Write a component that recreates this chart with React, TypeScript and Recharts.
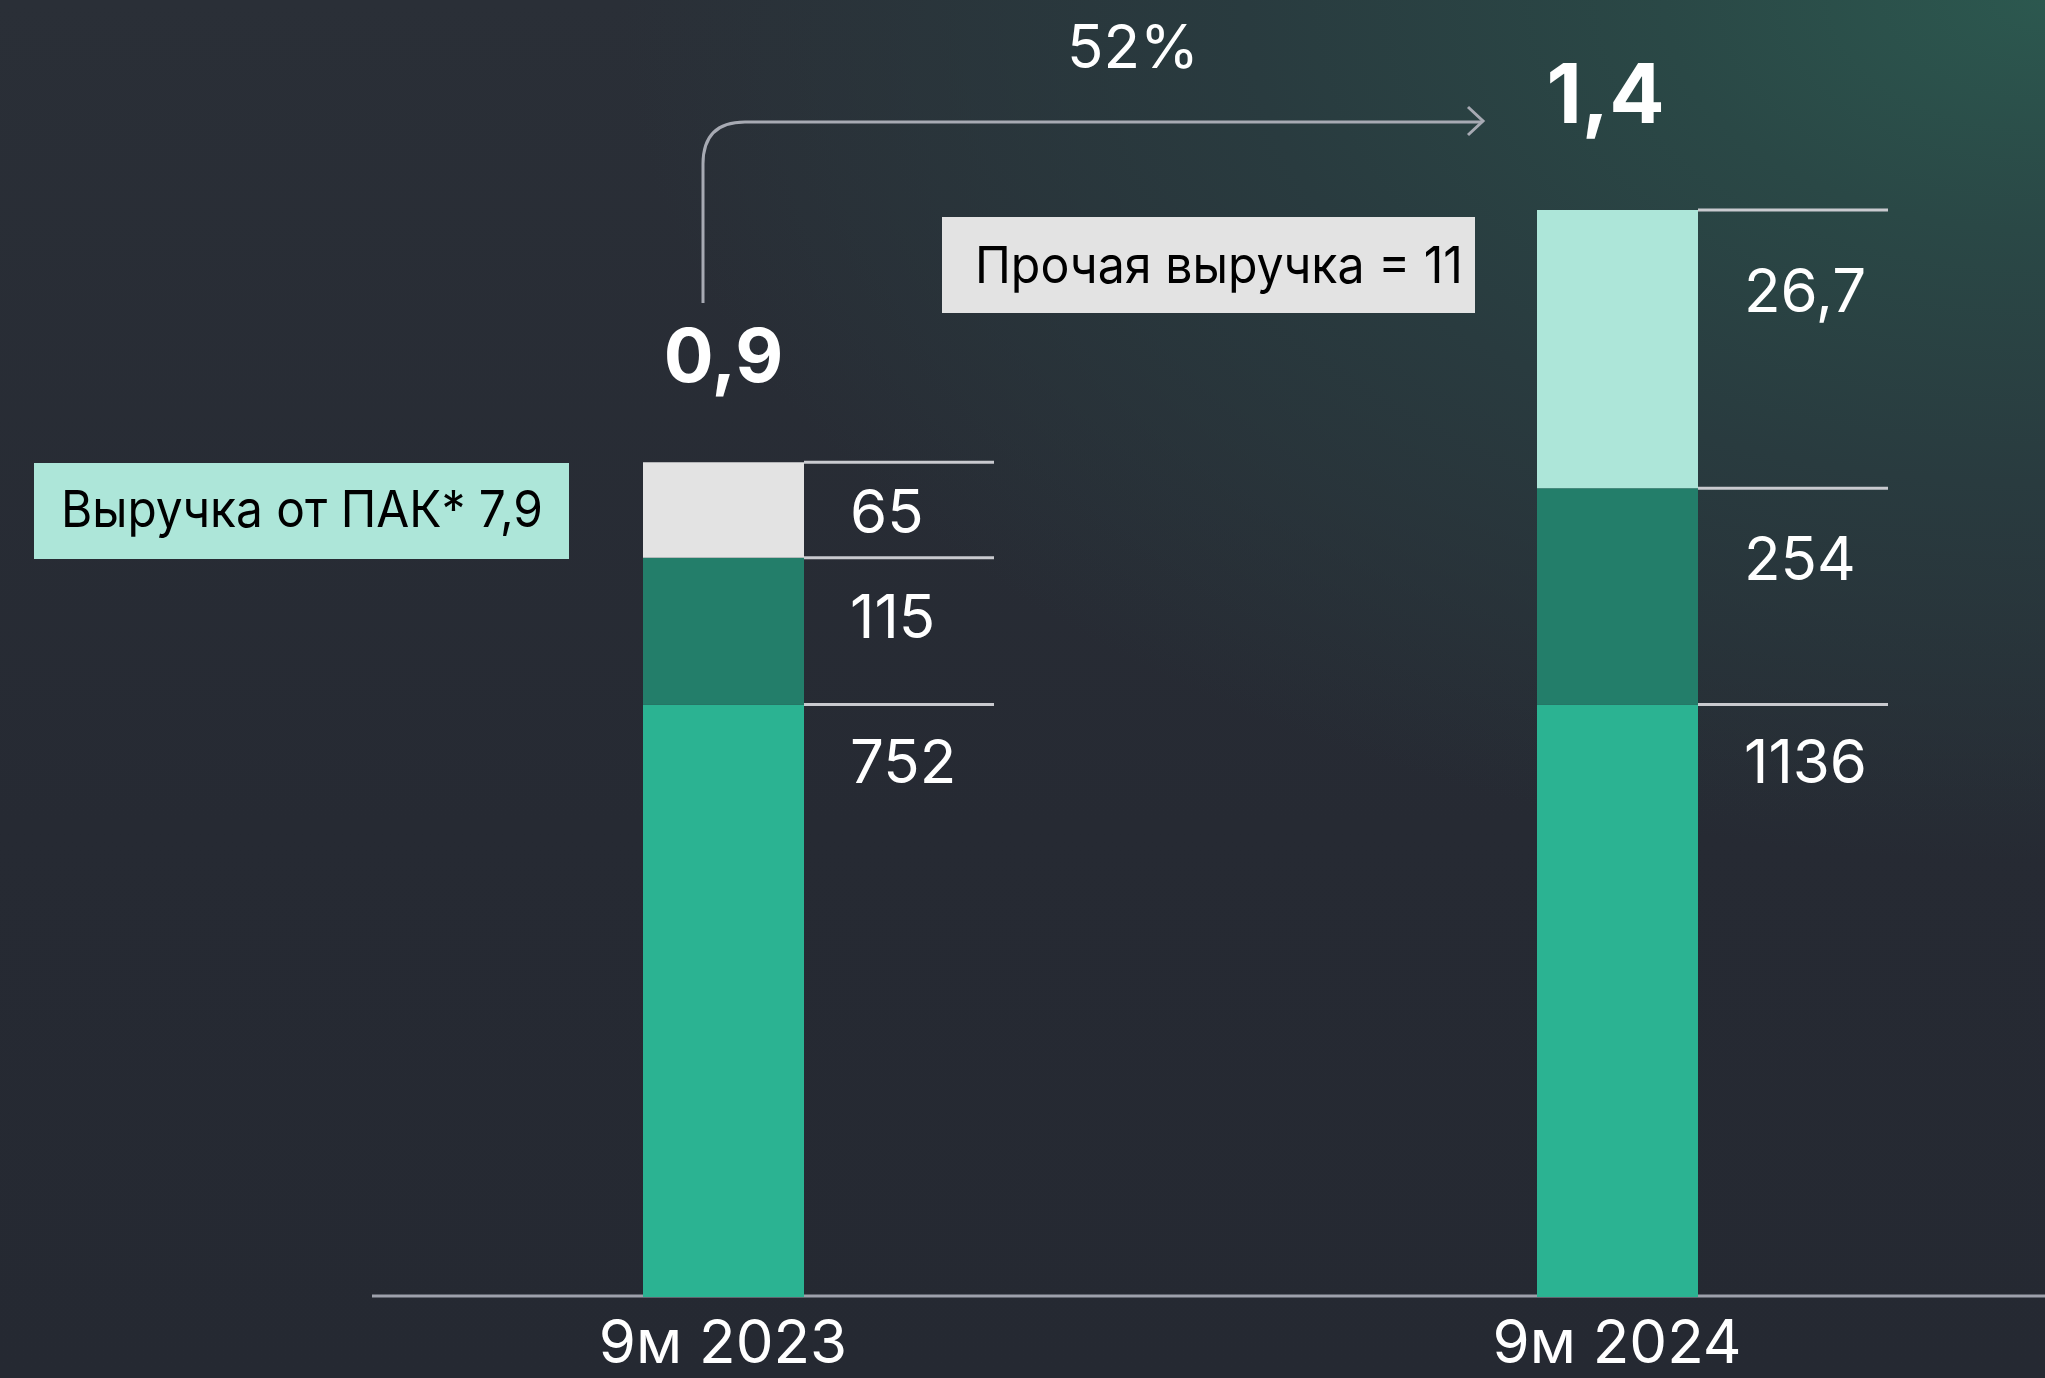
import React from 'react';
import { BarChart, Bar, XAxis, YAxis, Cell, LabelList } from 'recharts';

// Периоды
const periods = ['9м 2023', '9м 2024'];

// Высоты сегментов так, как они нарисованы на слайде (схематично, % от самого высокого столбца)
const coreHeight = [54.5, 54.5];
const midHeight = [13.5, 19.9];
const topHeight = [8.8, 25.6];

// Подписи сегментов и итогов
const coreValues = ['752', '1136'];
const midValues = ['115', '254'];
const topValues = ['65', '26,7'];
const totals = ['0,9', '1,4'];
const growth = '52%';

const topColors = ['#e3e3e3', '#ade6d9'];

const data = periods.map((name, i) => ({
    name,
    core: coreHeight[i],
    mid: midHeight[i],
    top: topHeight[i],
    coreLabel: coreValues[i],
    midLabel: midValues[i],
    topLabel: topValues[i],
    total: totals[i],
}));

const FONT = 'Inter, "Noto Sans", sans-serif';

// подпись справа от сегмента + линия-выноска по его верхней границе
const SegmentLabel = (props: any) => {
    const { x, y, width, height, value } = props;
    const right = Number(x) + Number(width);
    const top = Number(y);
    const h = Number(height);
    // в невысоких сегментах подпись опускается ближе к середине
    const drop = h < 300 ? 55 + 0.17 * h : 78;
    return (
        <g>
            <line x1={right} x2={right + 190} y1={top} y2={top} stroke="#c9cacf" strokeWidth={3} />
            <text x={right + 46} y={top + drop} fill="#ffffff" fontSize={60} fontFamily={FONT}>
                {value}
            </text>
        </g>
    );
};

// итог над столбцом
const TotalLabel = (props: any) => {
    const { x, y, width, value } = props;
    const i = totals.indexOf(String(value));
    const size = i === 1 ? 82 : 74;
    const lift = i === 1 ? 87 : 80;
    return (
        <text
            x={Number(x) + Number(width) / 2 - (i === 1 ? 12 : 0)}
            y={Number(y) - lift}
            textAnchor="middle"
            fill="#ffffff"
            fontSize={size}
            fontWeight={700}
            fontFamily={FONT}
        >
            {value}
        </text>
    );
};

const PeriodTick = (props: any) => {
    const { x, y, payload } = props;
    return (
        <text x={x} y={Number(y) + 66} textAnchor="middle" fill="#ffffff" fontSize={60} fontFamily={FONT}>
            {payload.value}
        </text>
    );
};

export default function App() {
    return (
        <div
            style={{
                position: 'relative',
                width: 2045,
                height: 1378,
                overflow: 'hidden',
                background:
                    'radial-gradient(ellipse 1900px 1150px at 100% 0%, #2c584f 0%, #2a4846 20%, #293b3f 42%, rgba(40,45,53,0) 75%), linear-gradient(to bottom, #2a2f37 0%, #262a33 60%, #252932 100%)',
            }}
        >
            <style>{'body{margin:0;}'}</style>

            {/* подложка: ось, стрелка роста, плашки-пояснения */}
            <svg width={2045} height={1378} style={{ position: 'absolute', left: 0, top: 0 }}>
                <line x1={372} x2={2045} y1={1296} y2={1296} stroke="#9ea1ac" strokeWidth={3} />

                <path
                    d="M703,303 L703,164 Q703,122 745,122 L1482,122"
                    fill="none"
                    stroke="#a7aab3"
                    strokeWidth={3}
                />
                <path d="M1468,107 L1483,121 L1468,135" fill="none" stroke="#a7aab3" strokeWidth={3} />
                <text x={1133} y={68} textAnchor="middle" fill="#ffffff" fontSize={60} fontFamily={FONT}>
                    {growth}
                </text>

                <rect x={34} y={463} width={535} height={96} fill="#ade6d9" />
                <text
                    x={61}
                    y={527}
                    fill="#000000"
                    fontSize={51}
                    fontFamily={FONT}
                    textLength={482}
                    lengthAdjust="spacingAndGlyphs"
                >
                    Выручка от ПАК* 7,9
                </text>

                <rect x={942} y={217} width={533} height={96} fill="#e3e3e3" />
                <text
                    x={975}
                    y={283}
                    fill="#000000"
                    fontSize={51}
                    fontFamily={FONT}
                    textLength={488}
                    lengthAdjust="spacingAndGlyphs"
                >
                    Прочая выручка = 11
                </text>
            </svg>

            <div style={{ position: 'absolute', left: 0, top: 0 }}>
                <BarChart
                    width={2064}
                    height={1378}
                    data={data}
                    margin={{ top: 210, right: 0, left: 276, bottom: 0 }}
                    barSize={161}
                >
                    <XAxis
                        dataKey="name"
                        axisLine={false}
                        tickLine={false}
                        tickSize={0}
                        tickMargin={0}
                        height={81}
                        interval={0}
                        tick={<PeriodTick />}
                    />
                    <YAxis hide domain={[0, 100]} />
                    <Bar dataKey="core" stackId="a" fill="#2bb392" isAnimationActive={false}>
                        <LabelList dataKey="coreLabel" content={SegmentLabel} />
                    </Bar>
                    <Bar dataKey="mid" stackId="a" fill="#237e6a" isAnimationActive={false}>
                        <LabelList dataKey="midLabel" content={SegmentLabel} />
                    </Bar>
                    <Bar dataKey="top" stackId="a" isAnimationActive={false}>
                        {data.map((d, i) => (
                            <Cell key={d.name} fill={topColors[i]} />
                        ))}
                        <LabelList dataKey="topLabel" content={SegmentLabel} />
                        <LabelList dataKey="total" content={TotalLabel} />
                    </Bar>
                </BarChart>
            </div>
        </div>
    );
}
